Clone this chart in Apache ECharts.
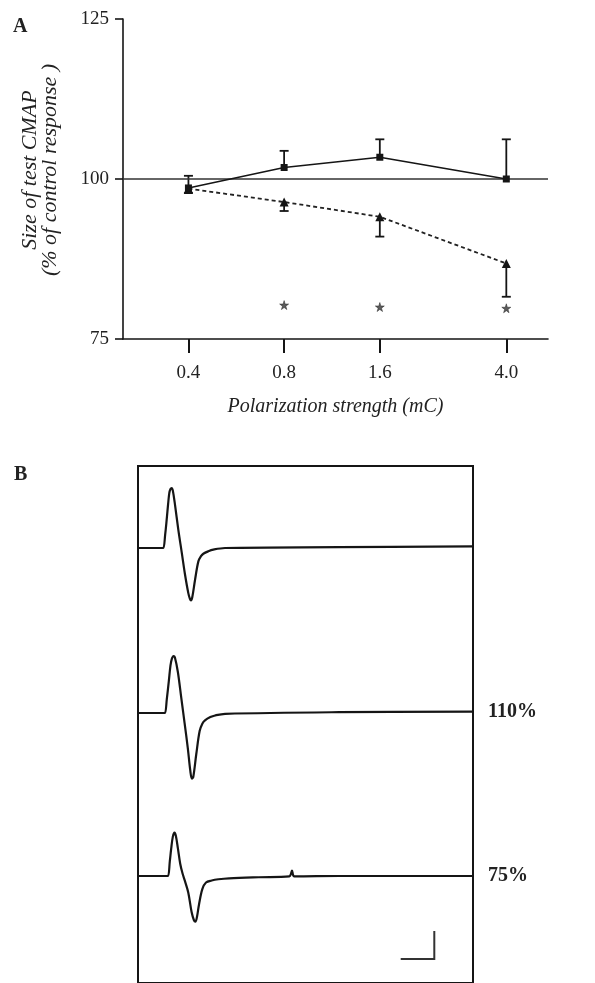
<!DOCTYPE html>
<html><head><meta charset="utf-8">
<script src="https://cdn.jsdelivr.net/npm/echarts@6/dist/echarts.min.js"></script>
<style>html,body{margin:0;padding:0;background:#fff}#c{width:595px;height:983px}</style>
</head><body><div id="c"></div>
<script>
// ---------- Panel A data ----------
const doseLabels = ['0.4', '0.8', '1.6', '4.0'];
const doses = [0.4, 0.8, 1.6, 4.0];
const squareMean = [98.6, 101.8, 103.4, 100.0];
const squareErrEnd = [100.5, 104.4, 106.2, 106.2];
const triangleMean = [98.5, 96.4, 94.1, 86.8];
const triangleErrEnd = [97.8, 95.0, 91.0, 81.6];
const starDoses = [0.8, 1.6, 4.0];
const starLevel = [80.3, 80.0, 79.8];
const yTickValues = [75, 100, 125];
const refLevel = 100;

// ---------- Panel B data (time ms, amplitude mV) ----------
const trace1 = [[0,0],[3.5,0],[3.78,0],[4.05,1.6],[4.28,3.45],[4.5,5.4],[4.67,6.7],[4.85,7.2],[5.03,7.32],[5.2,7.0],[5.52,5.3],[6.02,2.2],[6.52,-0.5],[7.01,-3.2],[7.51,-5.5],[7.75,-6.2],[7.91,-6.38],[8.1,-6.0],[8.51,-3.9],[9.01,-1.63],[9.4,-1.0],[9.75,-0.7],[10.5,-0.4],[11.24,-0.2],[12.99,0],[30,0.1],[50,0.2]];
const trace2 = [[0,0],[3.8,0],[4.03,0],[4.3,1.7],[4.6,3.9],[4.85,5.8],[5.05,6.6],[5.3,6.95],[5.5,6.8],[5.95,5.0],[6.45,1.9],[6.95,-1.2],[7.45,-4.4],[7.8,-7.0],[8.05,-8.0],[8.25,-7.8],[8.7,-5.0],[9.2,-2.2],[9.6,-1.3],[10.0,-0.9],[10.8,-0.5],[11.5,-0.3],[13.0,-0.1],[30,0.1],[50,0.16]];
const trace3 = [[0,0],[4.2,0],[4.48,0],[4.75,1.8],[4.95,3.3],[5.2,4.8],[5.45,5.29],[5.65,4.9],[5.95,3.4],[6.3,1.5],[6.65,0.3],[7.0,-0.6],[7.5,-2.0],[8.0,-4.4],[8.35,-5.4],[8.57,-5.57],[8.8,-5.0],[9.1,-3.5],[9.6,-1.6],[10.15,-0.8],[11.0,-0.55],[12.0,-0.4],[13.6,-0.28],[18,-0.15],[22.6,-0.05],[22.8,0.2],[22.99,0.65],[23.15,0.1],[23.3,-0.05],[30,0],[50,0]];
const traceLabels = ['', '110%', '75%'];

const lx = v => Math.log10(v);
const SERIF = 'Liberation Serif, Times New Roman, serif';
const INK = '#151515';

const chart = echarts.init(document.getElementById('c'), null, {renderer: 'canvas'});

function errRender(params, api) {
  const p0 = api.coord([api.value(0), api.value(1)]);
  const p1 = api.coord([api.value(0), api.value(2)]);
  const hw = 4.5;
  return {
    type: 'group',
    children: [
      {type: 'line', shape: {x1: p0[0], y1: p0[1], x2: p1[0], y2: p1[1]}, style: {stroke: INK, lineWidth: 1.8}},
      {type: 'line', shape: {x1: p1[0] - hw, y1: p1[1], x2: p1[0] + hw, y2: p1[1]}, style: {stroke: INK, lineWidth: 1.8}}
    ]
  };
}

const starPath = 'path://M50,0 L61,35 L98,35 L68,57 L79,91 L50,70 L21,91 L32,57 L2,35 L39,35 Z';

const traceGridTop = [466, 631, 794];
const traces = [trace1, trace2, trace3];

const grids = [
  {left: 123, right: 47, top: 19, height: 320},
  {left: 138, right: 122, top: 466, bottom: -10, show: true, borderColor: INK, borderWidth: 2, backgroundColor: 'transparent'}
];
traceGridTop.forEach(t => grids.push({left: 138, right: 122, top: t, height: 164}));

const xAxes = [{
  type: 'value', gridIndex: 0, min: lx(0.249), max: lx(5.41),
  axisLine: {show: true, onZero: false, lineStyle: {color: INK, width: 1.6}},
  axisTick: {show: true, length: 14, customValues: doses.map(lx), lineStyle: {color: INK, width: 2}},
  axisLabel: {show: true, customValues: doses.map(lx), margin: 25, fontSize: 19, fontFamily: SERIF, color: '#222',
    formatter: v => { let best = 0; doses.forEach((d, i) => { if (Math.abs(lx(d) - v) < Math.abs(lx(doses[best]) - v)) best = i; }); return doseLabels[best]; }},
  splitLine: {show: false},
  name: 'Polarization strength (mC)', nameLocation: 'middle', nameGap: 58,
  nameTextStyle: {fontSize: 20, fontStyle: 'italic', fontFamily: SERIF, color: '#222'}
}, {type: 'value', gridIndex: 1, show: false, min: 0, max: 1}];
traceGridTop.forEach((t, i) => xAxes.push({type: 'value', gridIndex: i + 2, show: false, min: 0, max: 50}));

const yAxes = [{
  type: 'value', gridIndex: 0, min: 75, max: 125, interval: 25,
  axisLine: {show: true, onZero: false, lineStyle: {color: INK, width: 1.6}},
  axisTick: {show: true, length: 8, lineStyle: {color: INK, width: 1.6}},
  axisLabel: {show: true, margin: 14, fontSize: 19, fontFamily: SERIF, color: '#222'},
  splitLine: {show: false}
}, {type: 'value', gridIndex: 1, show: false, min: 0, max: 1}];
traceGridTop.forEach((t, i) => yAxes.push({type: 'value', gridIndex: i + 2, show: false, min: -10, max: 10}));

const series = [
  {type: 'line', xAxisIndex: 0, yAxisIndex: 0, data: doses.map((d, i) => [lx(d), squareMean[i]]),
    symbol: 'rect', symbolSize: 7, itemStyle: {color: INK}, lineStyle: {color: INK, width: 1.6}, z: 5,
    markLine: {silent: true, symbol: 'none', label: {show: false}, lineStyle: {color: '#333', width: 1.6, type: 'solid'}, data: [{yAxis: refLevel}]}},
  {type: 'line', xAxisIndex: 0, yAxisIndex: 0, data: doses.map((d, i) => [lx(d), triangleMean[i]]),
    symbol: 'triangle', symbolSize: 9, itemStyle: {color: INK}, lineStyle: {color: '#222', width: 1.8, type: [4, 3]}, z: 4},
  {type: 'custom', xAxisIndex: 0, yAxisIndex: 0, renderItem: errRender, encode: {x: 0, y: [1, 2]},
    data: doses.map((d, i) => [lx(d), squareMean[i], squareErrEnd[i]]), z: 3},
  {type: 'custom', xAxisIndex: 0, yAxisIndex: 0, renderItem: errRender, encode: {x: 0, y: [1, 2]},
    data: doses.map((d, i) => [lx(d), triangleMean[i], triangleErrEnd[i]]), z: 3},
  {type: 'scatter', xAxisIndex: 0, yAxisIndex: 0, data: starDoses.map((d, i) => [lx(d), starLevel[i]]),
    symbol: starPath, symbolSize: 9, itemStyle: {color: '#333', borderColor: '#222', borderWidth: 0.6}}
];
traces.forEach((tr, i) => series.push({
  type: 'line', xAxisIndex: i + 2, yAxisIndex: i + 2, data: tr, symbol: 'none',
  smooth: 0.35, lineStyle: {color: INK, width: 2.2},
  endLabel: {show: traceLabels[i] !== '', formatter: traceLabels[i], distance: 15, fontSize: 20, fontWeight: 'bold', fontFamily: SERIF, color: '#222'}
}));

const option = {
  animation: false,
  backgroundColor: '#fff',
  grid: grids, xAxis: xAxes, yAxis: yAxes, series: series,
  graphic: [
    {type: 'text', left: 13, top: 17, style: {text: 'A', font: 'bold 20px ' + SERIF, fill: '#222'}},
    {type: 'text', left: 14, top: 465, style: {text: 'B', font: 'bold 20px ' + SERIF, fill: '#222'}},
    {type: 'text', x: 30, y: 170, rotation: Math.PI / 2, style: {text: 'Size of test CMAP', font: 'italic 22px ' + SERIF, fill: '#222', align: 'center', verticalAlign: 'middle'}},
    {type: 'text', x: 50, y: 170, rotation: Math.PI / 2, style: {text: '(% of control response )', font: 'italic 22px ' + SERIF, fill: '#222', align: 'center', verticalAlign: 'middle'}},
    {type: 'polyline', shape: {points: [[434.3, 931], [434.3, 959], [400.7, 959]]}, style: {stroke: '#333', lineWidth: 2, fill: null}}
  ]
};
chart.setOption(option);
</script>
</body></html>
